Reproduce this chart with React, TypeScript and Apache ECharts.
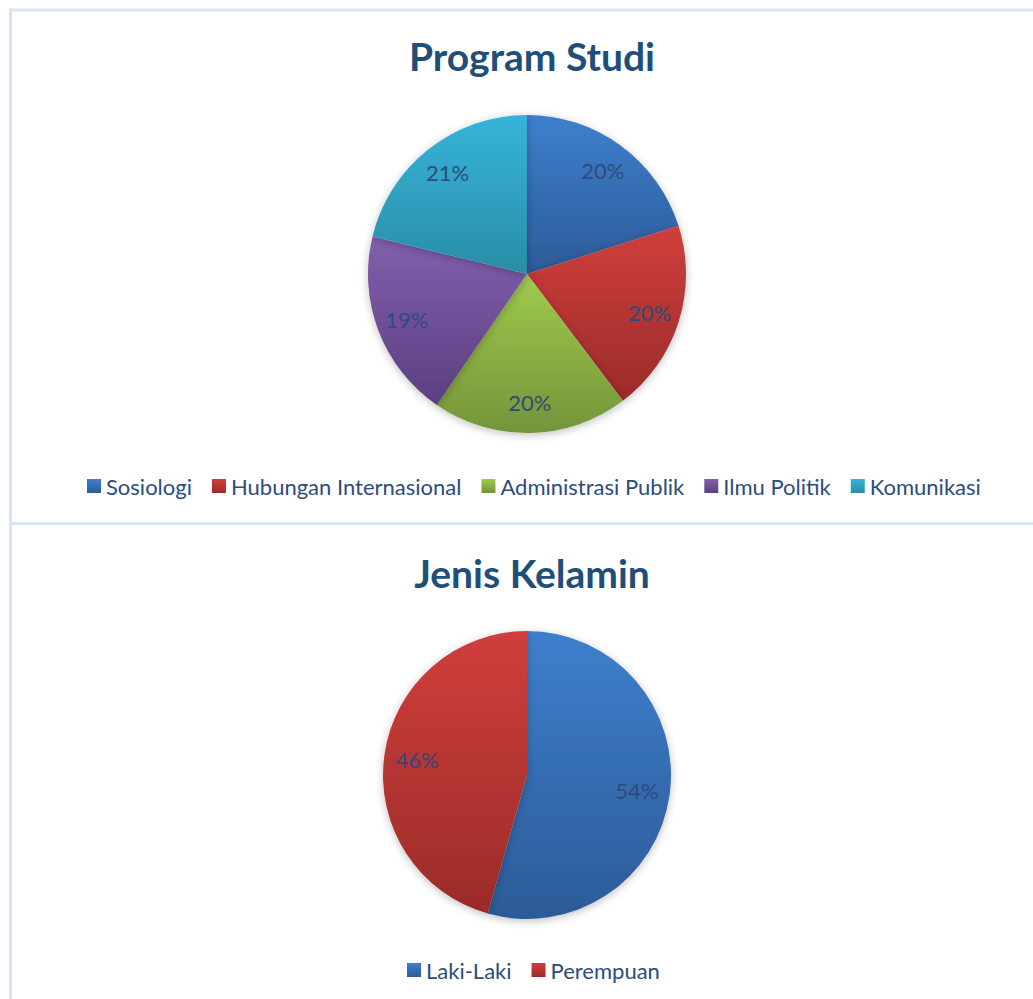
import React, { useEffect, useRef } from "react";
import * as echarts from "echarts";

const programNames = ["Sosiologi", "Hubungan Internasional", "Administrasi Publik", "Ilmu Politik", "Komunikasi"];
const programValues = [20.1, 19.6, 19.9, 19.2, 21.2];
const genderNames = ["Laki-Laki", "Perempuan"];
const genderValues = [54.4, 45.6];

const programColors = [
  ["#3e7fcd", "#2c5b98"],
  ["#d03f3c", "#9a2b29"],
  ["#9fcb4c", "#74943a"],
  ["#8160ad", "#5c3f80"],
  ["#36b4da", "#298da6"],
];
const genderColors = [
  ["#3e7fcd", "#2c5b98"],
  ["#d03f3c", "#9a2b29"],
];

const FONT = "Lato, 'Open Sans', sans-serif";
const TEXT = "#2d4c7c";
const BORDER = "#d8e4f3";

function grad(c: string[]) {
  return new echarts.graphic.LinearGradient(0, 0, 0, 1, [
    { offset: 0, color: c[0] },
    { offset: 1, color: c[1] },
  ]);
}

function pieSeries(names: string[], values: number[], colors: string[][], center: number[], r: number, inner: number) {
  const data = names.map((n, i) => ({
    name: n,
    value: values[i],
    itemStyle: { color: grad(colors[i]) },
  }));
  const main = {
    type: "pie",
    center,
    radius: [0, r],
    startAngle: 90,
    clockwise: true,
    silent: true,
    label: { show: false },
    labelLine: { show: false },
    itemStyle: {
      shadowBlur: 8,
      shadowColor: "rgba(0,0,0,0.25)",
      shadowOffsetY: 2,
      borderWidth: 0,
    },
    data,
  };
  const overlay = {
    type: "pie",
    center,
    radius: [r * inner, r],
    startAngle: 90,
    clockwise: true,
    silent: true,
    legendHoverLink: false,
    itemStyle: { color: "rgba(0,0,0,0)", borderWidth: 0 },
    label: {
      show: true,
      position: "inside",
      formatter: (p: any) => Math.round(p.percent) + "%",
      color: TEXT,
      fontSize: 22,
      fontFamily: FONT,
    },
    labelLine: { show: false },
    data: names.map((n, i) => ({ name: n, value: values[i] })),
  };
  return [main, overlay];
}

export default function App() {
  const ref = useRef<HTMLDivElement>(null);
  useEffect(() => {
    if (!ref.current) return;
    const chart = echarts.init(ref.current, null, { renderer: "svg" });
    const legendCommon = {
      orient: "horizontal",
      icon: "rect",
      itemWidth: 14,
      itemHeight: 14,
      itemGap: 20,
      textStyle: { color: TEXT, fontSize: 22, fontFamily: FONT },
      selectedMode: false,
    };
    const titleStyle = { color: "#1f4e79", fontSize: 39, fontWeight: "bold", fontFamily: FONT };
    chart.setOption({
      animation: false,
      backgroundColor: "#ffffff",
      title: [
        { text: "Program Studi", left: 527, textAlign: "center", top: 31, textStyle: titleStyle },
        { text: "Jenis Kelamin", left: 527, textAlign: "center", top: 548, textStyle: titleStyle },
      ],
      legend: [
        { ...legendCommon, data: programNames, left: 82, top: 470 },
        { ...legendCommon, data: genderNames, left: 402, top: 954 },
      ],
      graphic: [
        { type: "line", shape: { x1: 9, y1: 10, x2: 1033, y2: 10 }, style: { stroke: BORDER, lineWidth: 3 } },
        { type: "line", shape: { x1: 10.5, y1: 9, x2: 10.5, y2: 999 }, style: { stroke: BORDER, lineWidth: 3 } },
        { type: "line", shape: { x1: 9, y1: 523.5, x2: 1033, y2: 523.5 }, style: { stroke: BORDER, lineWidth: 3 } },
      ],
      series: [
        ...pieSeries(programNames, programValues, programColors, [527, 274], 159, 0.58),
        ...pieSeries(genderNames, genderValues, genderColors, [527, 775], 144, 0.5),
      ],
    });
    return () => chart.dispose();
  }, []);
  return (
    <div
      ref={ref}
      style={{ position: "fixed", left: 0, top: 0, width: 1033, height: 999, background: "#fff" }}
    />
  );
}
